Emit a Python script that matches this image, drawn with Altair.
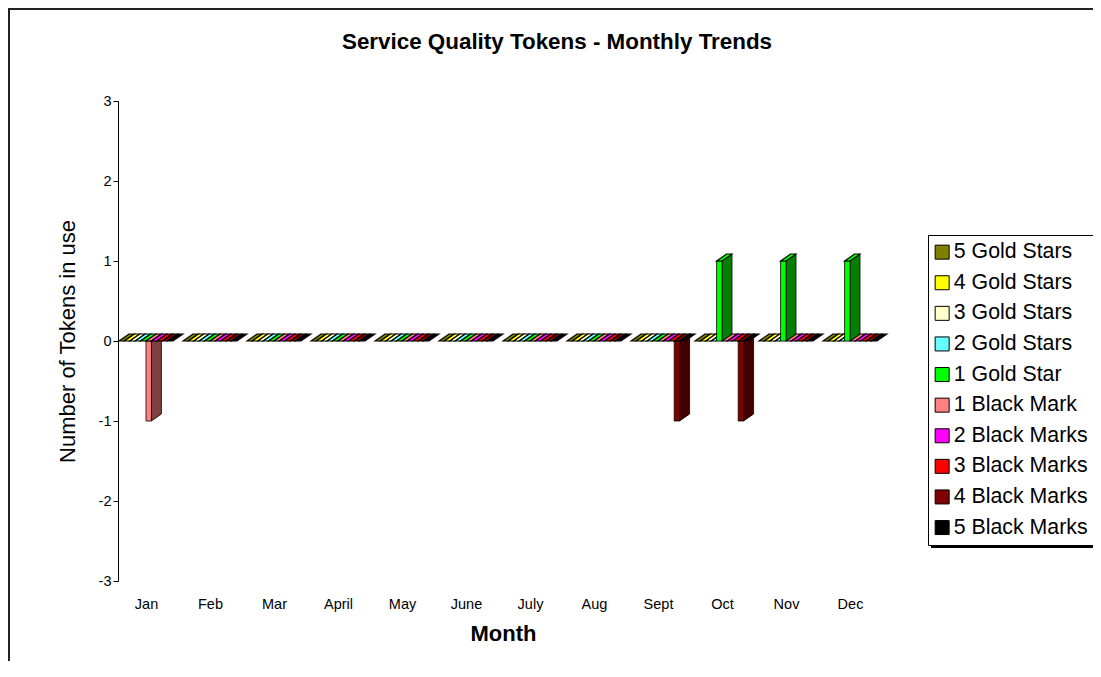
import json
import altair as alt
import pandas as pd

# ---------------- data ----------------
months = ["Jan", "Feb", "Mar", "April", "May", "June", "July", "Aug", "Sept", "Oct", "Nov", "Dec"]
series = ["5 Gold Stars", "4 Gold Stars", "3 Gold Stars", "2 Gold Stars", "1 Gold Star",
          "1 Black Mark", "2 Black Marks", "3 Black Marks", "4 Black Marks", "5 Black Marks"]
colors = ["#808000", "#FFFF00", "#FFFFCC", "#66FFFF", "#00FF00",
          "#FF8080", "#FF00FF", "#FF0000", "#800000", "#000000"]

gold5 = [0, 0, 0, 0, 0, 0, 0, 0, 0, 0, 0, 0]
gold4 = [0, 0, 0, 0, 0, 0, 0, 0, 0, 0, 0, 0]
gold3 = [0, 0, 0, 0, 0, 0, 0, 0, 0, 0, 0, 0]
gold2 = [0, 0, 0, 0, 0, 0, 0, 0, 0, 0, 0, 0]
gold1 = [0, 0, 0, 0, 0, 0, 0, 0, 0, 1, 1, 1]
black1 = [-1, 0, 0, 0, 0, 0, 0, 0, 0, 0, 0, 0]
black2 = [0, 0, 0, 0, 0, 0, 0, 0, 0, 0, 0, 0]
black3 = [0, 0, 0, 0, 0, 0, 0, 0, 0, 0, 0, 0]
black4 = [0, 0, 0, 0, 0, 0, 0, 0, -1, -1, 0, 0]
black5 = [0, 0, 0, 0, 0, 0, 0, 0, 0, 0, 0, 0]
values = [gold5, gold4, gold3, gold2, gold1, black1, black2, black3, black4, black5]

# ---------------- 3D-look geometry (style constants) ----------------
SLOT = 5.4 / 64      # width of one series bar, in month units
DX = 10 / 64         # depth shift to the right (month units)
DY = 7 / 80          # depth shift upward (value units)


def darken(hexcol, f=0.5):
    h = hexcol.lstrip("#")
    r, g, b = (int(h[k:k + 2], 16) for k in (0, 2, 4))
    return "#%02x%02x%02x" % (int(r * f), int(g * f), int(b * f))


front_rows, top_rows, side_rows = [], [], []
for j, (s, col, vals) in enumerate(zip(series, colors, values)):
    for i, (m, v) in enumerate(zip(months, vals)):
        x0 = i + 0.5 - 5 * SLOT + j * SLOT
        x1 = x0 + SLOT
        lo, hi = min(0, v), max(0, v)
        sign = 1 if v > 0 else (-1 if v < 0 else 0)
        key = f"{s}|{m}"
        front_rows.append(dict(series=s, key=key, x0=x0, x1=x1, lo=lo, hi=hi, sign=sign))
        top_rows += [dict(series=s, key=key, sign=sign, y=hi, xa=x0, xb=x1),
                     dict(series=s, key=key, sign=sign, y=hi + DY, xa=x0 + DX, xb=x1 + DX)]
        side_rows += [dict(series=s, key=key, sign=sign, dark=darken(col), x=x1, ya=lo, yb=hi),
                      dict(series=s, key=key, sign=sign, dark=darken(col), x=x1 + DX, ya=lo + DY, yb=hi + DY)]

front = pd.DataFrame(front_rows)
top = pd.DataFrame(top_rows)
side = pd.DataFrame(side_rows)

FONT = "Liberation Sans"
xscale = alt.Scale(domain=[0.0625, 12.09375], nice=False, zero=False)
yscale = alt.Scale(domain=[-3, 3], nice=False)
label_expr = json.dumps(months) + "[floor(datum.value)]"
xaxis = alt.Axis(values=[k + 0.5 for k in range(12)], labelExpr=label_expr, domain=False,
                 ticks=False, grid=False, labelPadding=16, labelFontSize=14.5, labelFont=FONT,
                 labelColor="black", labelFlush=False, labelOverlap=False,
                 title="Month", titleFont=FONT, titleFontSize=22, titleFontWeight="bold",
                 titleColor="black", titleY=52, titleBaseline="middle")
yaxis = alt.Axis(values=[-3, -2, -1, 0, 1, 2, 3], labelExpr="'' + datum.value", grid=False,
                 domainColor="black", tickColor="black", tickSize=5, labelPadding=2,
                 labelFontSize=14.5, labelFont=FONT, labelColor="black",
                 title="Number of Tokens in use", titleFont=FONT,
                 titleFontSize=22, titleFontWeight="normal", titleColor="black",
                 titleX=-51, titleY=240, titleAngle=-90, titleBaseline="middle", titleAlign="center")

color = alt.Color("series:N", scale=alt.Scale(domain=series, range=colors), sort=series,
                  legend=alt.Legend(title=None, orient="none", legendX=810, legendY=134,
                                    symbolType="square", symbolSize=196, symbolStrokeColor="black",
                                    symbolStrokeWidth=1, symbolOffset=-3, labelFont=FONT,
                                    labelFontSize=21.3, labelColor="black", rowPadding=8.6,
                                    padding=6.5, fillColor="white", strokeColor="black",
                                    labelOffset=1))


def side_layer(df):
    return alt.Chart(df).mark_area(orient="vertical", stroke="black", strokeWidth=0.8).encode(
        x=alt.X("x:Q", scale=xscale, axis=xaxis),
        y=alt.Y("ya:Q", scale=yscale, axis=yaxis, stack=None),
        y2="yb:Q",
        fill=alt.Fill("dark:N", scale=None),
        detail="key:N",
    )


def front_layer(df):
    return alt.Chart(df).mark_rect(stroke="black", strokeWidth=0.8).encode(
        x=alt.X("x0:Q", scale=xscale, axis=xaxis),
        x2="x1:Q",
        y=alt.Y("lo:Q", scale=yscale, axis=yaxis),
        y2="hi:Q",
        color=color,
    )


def top_layer(df):
    return alt.Chart(df).mark_area(orient="horizontal", stroke="black", strokeWidth=1.1).encode(
        y=alt.Y("y:Q", scale=yscale, axis=yaxis),
        x=alt.X("xa:Q", scale=xscale, axis=xaxis, stack=None),
        x2="xb:Q",
        color=color,
        detail="key:N",
    )


deco = pd.DataFrame({"k": [0]})
frame = alt.Chart(deco).mark_rect(fillOpacity=0, stroke="#222222", strokeWidth=2).encode(
    x=alt.value(-109), x2=alt.value(1100), y=alt.value(-92), y2=alt.value(700))
shadow = alt.Chart(deco).mark_rect(fill="black").encode(
    x=alt.value(813), x2=alt.value(980), y=alt.value(138), y2=alt.value(447))

chart = alt.layer(
    frame,
    shadow,
    side_layer(side[side.sign < 0]),
    front_layer(front[front.sign < 0]),
    top_layer(top[top.sign <= 0]),
    side_layer(side[side.sign > 0]),
    front_layer(front[front.sign > 0]),
    top_layer(top[top.sign > 0]),
).properties(
    width=770, height=480,
    title=alt.TitleParams("Service Quality Tokens - Monthly Trends", font=FONT, fontSize=22.4,
                          fontWeight="bold", color="black", anchor="middle", dx=54, dy=45,
                          offset=0),
    padding={"left": 110, "top": 93, "right": 205, "bottom": 80},
    autosize=alt.AutoSizeParams(type="none"),
).configure(background="white").configure_view(stroke=None)

chart.save("out.html", embed_options={"renderer": "svg", "actions": False})
